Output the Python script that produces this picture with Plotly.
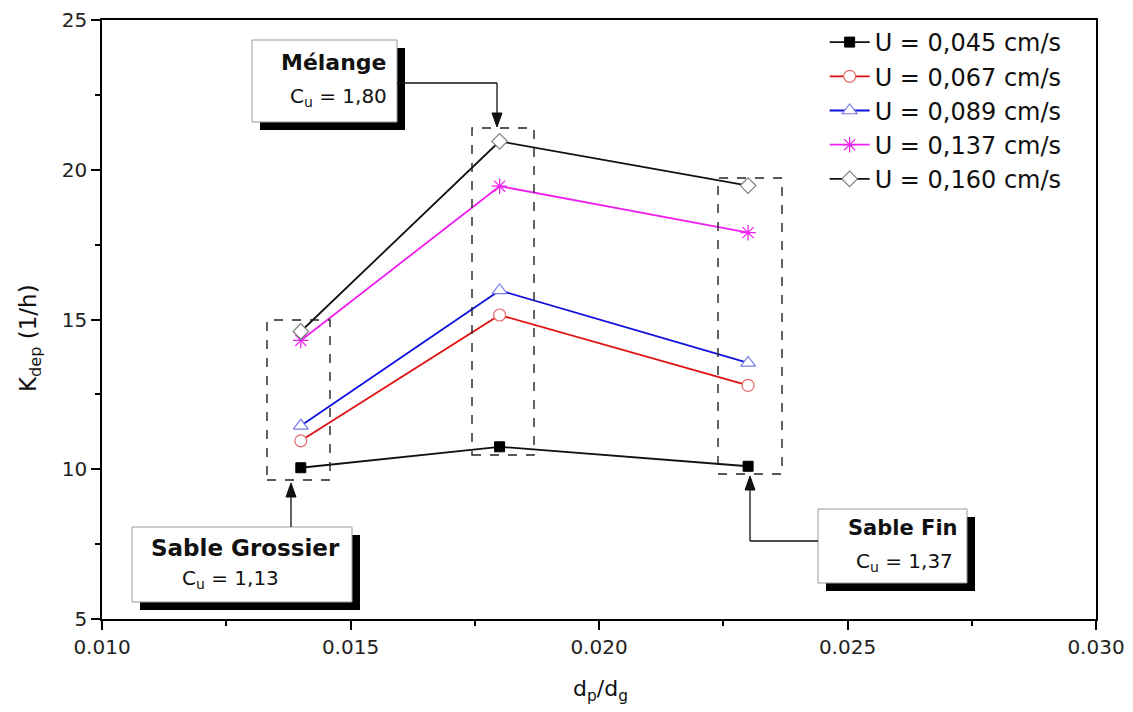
import plotly.graph_objects as go

# ---- data ----
dp_dg = [0.014, 0.018, 0.023]
series_names = ["U = 0,045 cm/s", "U = 0,067 cm/s", "U = 0,089 cm/s",
                "U = 0,137 cm/s", "U = 0,160 cm/s"]
k_045 = [10.05, 10.75, 10.1]
k_067 = [10.95, 15.15, 12.8]
k_089 = [11.45, 15.97, 13.55]
k_137 = [14.3, 19.45, 17.9]
k_160 = [14.6, 20.95, 19.47]

x_ticks = [0.010, 0.015, 0.020, 0.025, 0.030]
y_ticks = [5, 10, 15, 20, 25]

XR = [0.010, 0.030]
YR = [5, 25]

# target plot area in window pixels; page body has an 8px margin
OFF = 8
L, R, T, B = 102, 1096, 20, 619
W, H = 1133 - OFF, 712 - OFF


def px2x(px):
    return XR[0] + (px - L) / (R - L) * (XR[1] - XR[0])


def px2y(py):
    return YR[0] + (B - py) / (B - T) * (YR[1] - YR[0])


def px2paper(px, py):
    return (px - L) / (R - L), (B - py) / (B - T)


FONT = "DejaVu Sans, Verdana, sans-serif"

styles = [
    dict(line=dict(color="#111111", width=1.8),
         marker=dict(symbol="square", size=10, color="#000000",
                     line=dict(color="#000000", width=1))),
    dict(line=dict(color="#E01010", width=1.8),
         marker=dict(symbol="circle", size=12, color="white",
                     line=dict(color="#E86A6A", width=1.2))),
    dict(line=dict(color="#1010E0", width=1.8),
         marker=dict(symbol="triangle-up", size=13, color="white",
                     line=dict(color="#7A7AE8", width=1.2))),
    dict(line=dict(color="#F020F0", width=1.8),
         marker=dict(symbol="asterisk-open", size=13,
                     line=dict(color="#F050F0", width=1.2))),
    dict(line=dict(color="#111111", width=1.8),
         marker=dict(symbol="diamond", size=12, color="white",
                     line=dict(color="#808080", width=1.2))),
]

fig = go.Figure()
for name, vals, st in zip(series_names, [k_045, k_067, k_089, k_137, k_160], styles):
    fig.add_trace(go.Scatter(x=dp_dg, y=vals, mode="lines+markers", name=name,
                             line=st["line"], marker=st["marker"]))

shapes = []
annotations = []

# dashed grouping boxes (pixel bounds)
for (x0, x1, y0, y1) in [(267, 330, 320, 480), (472, 534, 128, 455), (718, 782, 178, 474)]:
    shapes.append(dict(type="rect", xref="x", yref="y",
                       x0=px2x(x0), x1=px2x(x1), y0=px2y(y1), y1=px2y(y0),
                       line=dict(color="#222222", width=1.4, dash="dash"),
                       layer="above"))


def label_box(x0, y0, x1, y1, off=8):
    shapes.append(dict(type="rect", xref="x", yref="y",
                       x0=px2x(x0 + off), x1=px2x(x1 + off),
                       y0=px2y(y1 + off), y1=px2y(y0 + off),
                       fillcolor="black", line=dict(color="black", width=0)))
    shapes.append(dict(type="rect", xref="x", yref="y",
                       x0=px2x(x0), x1=px2x(x1), y0=px2y(y1), y1=px2y(y0),
                       fillcolor="white", line=dict(color="#999999", width=1)))


def txt(px, py, text, size, bold=False, xanchor="center", angle=0):
    xp, yp = px2paper(px, py)
    annotations.append(dict(x=xp, y=yp, xref="paper", yref="paper",
                            text=f"<b>{text}</b>" if bold else text,
                            showarrow=False, xanchor=xanchor, yanchor="middle",
                            textangle=angle,
                            font=dict(family=FONT, size=size, color="#111111")))


def seg(x0, y0, x1, y1):
    shapes.append(dict(type="line", xref="x", yref="y",
                       x0=px2x(x0), x1=px2x(x1), y0=px2y(y0), y1=px2y(y1),
                       line=dict(color="#111111", width=1.3)))


def arrow_v(x, tip, tail):
    # vertical arrow: line from tail to tip with filled triangular head
    d = 1 if tail > tip else -1
    seg(x, tail, x, tip + d * 10)
    p = [(x, tip), (x - 5, tip + d * 14), (x + 5, tip + d * 14)]
    path = "M " + " L ".join(f"{px2x(a)},{px2y(b)}" for a, b in p) + " Z"
    shapes.append(dict(type="path", xref="x", yref="y", path=path,
                       fillcolor="#111111", line=dict(color="#111111", width=1)))


# Mélange
label_box(252, 40, 397, 122)
txt(389, 62, "Mélange", 22, bold=True, xanchor="right")
txt(389, 97, "C<sub>u</sub> = 1,80", 20, xanchor="right")
seg(397, 83, 497, 83)
arrow_v(497, 127, 83)

# Sable Grossier
label_box(132, 527, 352, 602)
txt(245, 548, "Sable Grossier", 23, bold=True)
txt(230, 579, "C<sub>u</sub> = 1,13", 20)
arrow_v(291, 483, 527)

# Sable Fin
label_box(818, 509, 967, 583)
txt(960, 528, "Sable Fin", 21, bold=True, xanchor="right")
txt(955, 562, "C<sub>u</sub> = 1,37", 20, xanchor="right")
seg(750, 541, 818, 541)
arrow_v(750, 476, 541)

# axis titles
txt(30, 338, "K<sub>dep</sub> (1/h)", 23, angle=-90)
txt(600, 690, "d<sub>p</sub>/d<sub>g</sub>", 22)

axis_common = dict(showline=True, linecolor="black", linewidth=1.6, mirror=True,
                   ticks="outside", ticklen=9, tickwidth=1.5, tickcolor="black",
                   showgrid=False, zeroline=False, automargin=False,
                   tickfont=dict(family=FONT, size=20, color="#222222"))

fig.update_layout(
    width=W, height=H,
    margin=dict(l=L - OFF, r=W + OFF - R, t=T - OFF, b=H + OFF - B),
    plot_bgcolor="white", paper_bgcolor="white",
    shapes=shapes, annotations=annotations,
    showlegend=True,
    legend=dict(x=0.727, y=1.0, xanchor="left", yanchor="top",
                bgcolor="rgba(0,0,0,0)", borderwidth=0,
                font=dict(family=FONT, size=24, color="#111111"),
                itemwidth=40, tracegroupgap=0),
    xaxis=dict(range=XR, tickvals=x_ticks, ticktext=[f"{v:.3f}" for v in x_ticks],
               minor=dict(dtick=0.0025, ticks="outside", ticklen=5, tickwidth=1.5,
                          tickcolor="black", showgrid=False),
               **axis_common),
    yaxis=dict(range=YR, tickvals=y_ticks, ticktext=[str(v) for v in y_ticks],
               minor=dict(dtick=2.5, ticks="outside", ticklen=5, tickwidth=1.5,
                          tickcolor="black", showgrid=False),
               **axis_common),
)

fig.write_html("out.html")
